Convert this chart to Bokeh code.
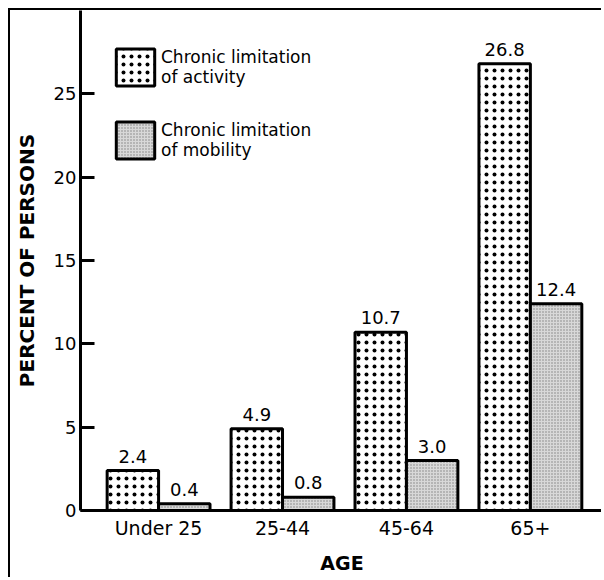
from bokeh.plotting import figure
from bokeh.models import (Range1d, FixedTicker, Legend, LegendItem,
                          ColumnDataSource, LabelSet)
from bokeh.core.properties import value
from bokeh.transform import dodge
from bokeh.embed import file_html
from bokeh.resources import INLINE

ages = ["Under 25", "25-44", "45-64", "65+"]
activity = [2.4, 4.9, 10.7, 26.8]
mobility = [0.4, 0.8, 3.0, 12.4]
y_ticks = [0, 5, 10, 15, 20, 25]
series_labels = ["Chronic limitation\nof activity", "Chronic limitation\nof mobility"]

FONT = "DejaVu Sans"
pos = list(range(len(ages)))
src = ColumnDataSource(dict(
    x=pos, act=activity, mob=mobility,
    act_lbl=[f"{v:.1f}" for v in activity],
    mob_lbl=[f"{v:.1f}" for v in mobility],
))

# element: 8px margin + 2.5px border on left/top, content 593 x 569
p = figure(width=593, height=569, output_backend="svg", toolbar_location=None,
           x_range=Range1d(-0.63, 3.59), y_range=Range1d(0, 30), title=None,
           min_border_left=70, min_border_right=0, min_border_top=0, min_border_bottom=69)
p.styles = {"margin-left": "8px", "margin-top": "8px",
            "border-left": "2.5px solid black", "border-top": "2.5px solid black"}
p.grid.visible = False
p.outline_line_color = None
p.background_fill_color = "white"
p.border_fill_color = "white"

bw = 0.415
r1 = p.vbar(x=dodge('x', -bw / 2), top='act', width=bw, source=src,
            fill_color="white", line_color="black", line_width=3,
            hatch_pattern="dot", hatch_scale=8, hatch_weight=3.5, hatch_color="black")
r2 = p.vbar(x=dodge('x', bw / 2), top='mob', width=bw, source=src,
            fill_color="#d8d8d8", line_color="black", line_width=3,
            hatch_pattern="dot", hatch_scale=3, hatch_weight=1, hatch_color="#808080")

for col, lbl, off in (("act", "act_lbl", -bw / 2), ("mob", "mob_lbl", bw / 2)):
    p.add_layout(LabelSet(x=dodge('x', off), y=col, text=lbl, source=src,
                          text_align="center", text_baseline="alphabetic", y_offset=8,
                          text_font=value(FONT), text_font_size="18px", text_color="black"))

ya = p.yaxis[0]
ya.ticker = FixedTicker(ticks=y_ticks)
ya.major_tick_in = 14
ya.major_tick_out = 0
ya.minor_tick_line_color = None
ya.axis_line_width = 3
ya.axis_line_color = "black"
ya.major_tick_line_width = 3
ya.major_tick_line_color = "black"
ya.major_label_standoff = 4
ya.major_label_text_font = FONT
ya.major_label_text_font_size = "18px"
ya.major_label_text_color = "black"
ya.axis_label = "PERCENT OF PERSONS"
ya.axis_label_text_font = FONT
ya.axis_label_text_font_size = "20px"
ya.axis_label_text_font_style = "bold"
ya.axis_label_text_color = "black"
ya.axis_label_standoff = 12

xa = p.xaxis[0]
xa.ticker = FixedTicker(ticks=pos)
xa.major_label_overrides = {i: a for i, a in zip(pos, ages)}
xa.major_tick_line_color = None
xa.major_tick_in = 0
xa.major_tick_out = 0
xa.minor_tick_line_color = None
xa.axis_line_width = 3
xa.axis_line_color = "black"
xa.major_label_standoff = 6
xa.major_label_text_font = FONT
xa.major_label_text_font_size = "19px"
xa.major_label_text_color = "black"
xa.axis_label = "AGE"
xa.axis_label_text_font = FONT
xa.axis_label_text_font_size = "19px"
xa.axis_label_text_font_style = "bold"
xa.axis_label_text_color = "black"
xa.axis_label_standoff = 10

legend = Legend(items=[LegendItem(label=series_labels[0], renderers=[r1]),
                       LegendItem(label=series_labels[1], renderers=[r2])],
                location=(31, 347), glyph_width=48, glyph_height=46, label_height=46,
                label_standoff=2, spacing=27, padding=0, margin=0,
                border_line_color=None, background_fill_alpha=0,
                label_text_font=FONT, label_text_font_size="17px",
                label_text_color="black")
p.add_layout(legend)

open("out.html", "w").write(file_html(p, INLINE))
